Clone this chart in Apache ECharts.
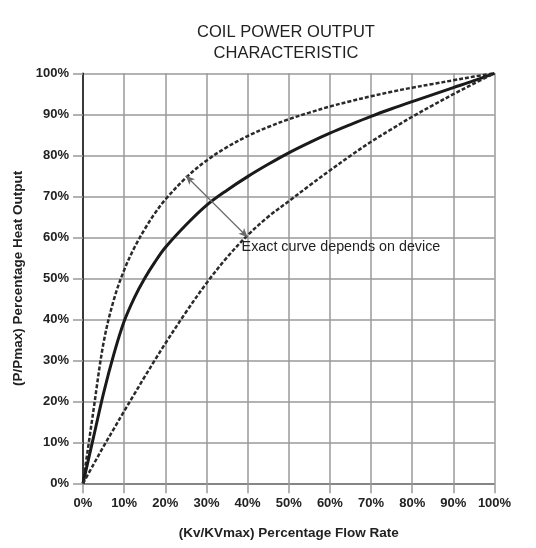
<!DOCTYPE html>
<html>
<head>
    <meta charset="utf-8">
    <title>Coil power output characteristic</title>
    <script src="https://cdn.jsdelivr.net/npm/echarts@6/dist/echarts.min.js"></script>
</head>
<body style="margin:0;background:#fff;">
    <div id="main" style="width:536px;height:548px;"></div>
    <script type="text/javascript">
    // flow rate (% of Kv max) and heat output (% of P max)
    var flowPct  = [0, 2.5, 5, 7.5, 10, 12.5, 15, 17.5, 20, 25, 30, 35, 40, 45, 50, 55, 60, 65, 70, 75, 80, 85, 90, 95, 100];
    var typical  = [0, 11, 22, 31.5, 39.5, 45.3, 50, 54, 57.5, 63, 67.8, 71.5, 74.8, 77.8, 80.6, 83.1, 85.4, 87.5, 89.5, 91.35, 93.1, 94.8, 96.5, 98.2, 100];
    var upper    = [0, 17.5, 34.3, 44.8, 52, 57.5, 62, 65.9, 69.2, 74.5, 78.7, 82, 84.7, 86.9, 88.8, 90.4, 91.9, 93.2, 94.4, 95.5, 96.5, 97.4, 98.3, 99.2, 100];
    var lower    = [0, 4.5, 9, 13.3, 17.6, 21.8, 26, 30.1, 34.1, 41.7, 48.8, 55.1, 60.5, 65, 68.8, 72.6, 76.3, 79.9, 83.3, 86.4, 89.4, 92.2, 94.9, 97.5, 100];
    var arrowFrom = [25, 75];
    var arrowTo   = [40, 60];
    var note = 'Exact curve depends on device';

    function pairs(ys) {
        return flowPct.map(function (x, i) { return [x, ys[i]]; });
    }

    var font = '"Liberation Sans", Arial, sans-serif';
    var myChart = echarts.init(document.getElementById('main'));

    var axisCommon = {
        type: 'value',
        min: 0,
        max: 100,
        interval: 10,
        nameLocation: 'middle',
        nameTextStyle: { fontFamily: font, fontSize: 13.5, fontWeight: 'bold', color: '#222' },
        axisTick: { show: true, length: 10, lineStyle: { color: '#999', width: 1.5 } },
        axisLabel: {
            fontFamily: font, fontSize: 13, fontWeight: 'bold', color: '#222',
            margin: 14,
            formatter: '{value}%'
        },
        splitLine: { show: true, lineStyle: { color: '#9a9a9a', width: 1.5 } }
    };

    // 三条曲线共用的样式
    function curve(name, ys, style) {
        return {
            name: name,
            type: 'line',
            smooth: 0.35,
            symbol: 'none',
            data: pairs(ys),
            lineStyle: style
        };
    }

    var lowerSeries = curve('lower', lower, { color: '#2a2a2a', width: 2.5, type: [4, 2] });
    lowerSeries.markLine = {
        silent: true,
        symbol: ['arrow', 'arrow'],
        symbolSize: [6, 9],
        label: { show: false },
        lineStyle: { color: '#6a6a6a', width: 1.2, type: 'solid' },
        data: [[{ coord: arrowFrom }, { coord: arrowTo }]]
    };
    lowerSeries.markPoint = {
        silent: true,
        symbol: 'circle',
        symbolSize: 0,
        data: [{ coord: arrowTo }],
        label: {
            show: true,
            formatter: note,
            position: 'right',
            distance: 0,
            offset: [-6, 10],
            fontFamily: font, fontSize: 14.3, color: '#222'
        }
    };

    var option = {
        backgroundColor: '#fff',
        animation: false,
        title: {
            text: 'COIL POWER OUTPUT\nCHARACTERISTIC',
            left: 281,
            top: 17,
            textAlign: 'center',
            textStyle: {
                fontFamily: font, fontSize: 16.5, fontWeight: 'normal',
                color: '#222', lineHeight: 21
            }
        },
        grid: { left: 83, right: 41.5, top: 73.3, bottom: 64.7 },
        xAxis: Object.assign({}, axisCommon, {
            name: '(Kv/KVmax) Percentage Flow Rate',
            nameGap: 43,
            axisLine: { show: true, lineStyle: { color: '#777', width: 1.5 } }
        }),
        yAxis: Object.assign({}, axisCommon, {
            name: '(P/Pmax) Percentage Heat Output',
            nameGap: 52,
            axisLine: { show: true, lineStyle: { color: '#111', width: 1.5 } }
        }),
        series: [
            curve('upper', upper, { color: '#2a2a2a', width: 2.5, type: [4, 2] }),
            curve('typical', typical, { color: '#1a1a1a', width: 3, type: 'solid' }),
            lowerSeries
        ]
    };

    myChart.setOption(option);
    </script>
</body>
</html>
